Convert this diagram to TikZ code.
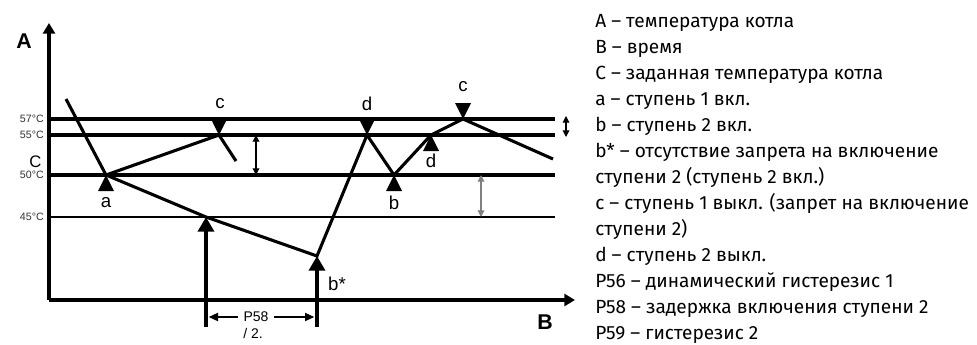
\documentclass[tikz,border=0pt]{standalone}
\usepackage{fontspec}
\setmainfont{Liberation Sans}
\newfontfamily\legendfont{Fira Sans}
\usetikzlibrary{arrows.meta}

\tikzset{
  axis/.style={line width=2.6pt, -{Triangle[length=8pt,width=9pt]}},
  level/.style={line width=2.5pt},
  curve/.style={line width=2.3pt},
  bigarrow/.style={line width=2.6pt, -{Triangle[length=11pt,width=12pt]}},
  hyst/.style={line width=0.9pt, {Triangle[length=5pt,width=5pt]}-{Triangle[length=5pt,width=5pt]}},
  dimarrow/.style={line width=1.4pt, -{Triangle[length=7pt,width=6pt]}, shorten >=2pt},
  tlabel/.style={font=\fontsize{14}{16}\selectfont},
  templabel/.style={anchor=east, text=black!80, font=\fontsize{8}{9}\selectfont, inner sep=0pt},
}

\begin{document}
\begin{tikzpicture}[x=0.75pt, y=-0.75pt]
  \useasboundingbox (0,0) rectangle (977,344);

  % axes
  \coordinate (o) at (49,300);
  \coordinate (ytop) at (49,23);
  \coordinate (xend) at (575,300);
  \draw[axis] (o) -- (ytop);
  \draw[axis] (o) -- (xend);
  \node[font=\bfseries\fontsize{16}{18}\selectfont] (A) at (24,41) {A};
  \node[font=\bfseries\fontsize{16}{18}\selectfont] (B) at (545,322) {B};

  % temperature levels
  \foreach \y/\w in {119/2.5pt, 135/2.5pt, 175/2.5pt, 217/1.3pt}
    \draw[line width=\w] (49,\y) -- (555,\y);
  \foreach \y/\t in {119/57, 135/55, 175/50, 217/45}
    \node[templabel] (t\t) at (44,\y) {\t°C};
  \node[font=\fontsize{12.5}{14}\selectfont, inner sep=0pt] (C) at (35.5,162) {C};

  % boiler temperature
  \coordinate (s) at (66,99);
  \coordinate (a) at (106,175);
  \coordinate (c1) at (219,135);
  \coordinate (c1e) at (236,161);
  \coordinate (t45) at (206,217);
  \coordinate (bs) at (317,256);
  \coordinate (d1) at (367,135);
  \coordinate (b) at (394,175);
  \coordinate (d2) at (431,135);
  \coordinate (c2) at (463,119);
  \coordinate (e) at (553,159);
  \draw[curve] (s) -- (a) -- (c1) -- (c1e);
  \draw[curve] (a) -- (t45) -- (bs) -- (d1) -- (b) -- (d2) -- (c2) -- (e);

  % switching marks, 1 = up, -1 = down
  \foreach \x/\y/\s in {106/175/1, 219/135/-1, 367/135/-1, 394/175/1, 431/135/1, 463/119/-1}
    \fill (\x,\y) -- ++(-8,16*\s) -- ++(16,0) -- cycle;
  \node[tlabel] (la) at (106,203) {a};
  \node[tlabel] (lc1) at (220,104) {c};
  \node[tlabel] (ld1) at (367,104) {d};
  \node[tlabel] (lb) at (394,203) {b};
  \node[tlabel] (ld2) at (431,161) {d};
  \node[tlabel] (lc2) at (463,87) {c};
  \node[tlabel] (lbs) at (337,284) {b*};

  % delay P58
  \coordinate (p1) at (206,327);
  \coordinate (p2) at (317,327);
  \draw[bigarrow] (p1) -- (t45);
  \draw[bigarrow] (p2) -- (bs);
  \node[font=\fontsize{10.5}{12}\selectfont, inner sep=4pt] (p58) at (256,317) {P58};
  \node[font=\fontsize{10.5}{12}\selectfont, inner sep=0pt] (p58b) at (253,333) {/ 2.};
  \draw[dimarrow] (p58) -- (p1 |- p58);
  \draw[dimarrow] (p58) -- (p2 |- p58);

  % hysteresis arrows
  \coordinate (h1) at (256,135);
  \coordinate (h1b) at (256,175);
  \coordinate (h2) at (481,175);
  \coordinate (h2b) at (481,217);
  \coordinate (h3) at (566,116);
  \coordinate (h3b) at (566,137);
  \draw[hyst] (h1) -- (h1b);
  \draw[hyst, gray] (h2) -- (h2b);
  \draw[hyst] (h3) -- (h3b);

  % legend
  \foreach \t [count=\i from 0] in {{A – температура котла}, {B – время},
      {C – заданная температура котла}, {a – ступень 1 вкл.}, {b – ступень 2 вкл.},
      {b* – отсутствие запрета на включение}, {ступени 2 (ступень 2 вкл.)},
      {c – ступень 1 выкл. (запрет на включение}, {ступени 2)}, {d – ступень 2 выкл.},
      {P56 – динамический гистерезис 1}, {P58 – задержка включения ступени 2},
      {P59 – гистерезис 2}}
    \node[anchor=base west, inner sep=0pt, font=\legendfont\fontsize{14.3}{16}\selectfont] (leg\i) at (595,27+26*\i) {\t};
\end{tikzpicture}
\end{document}
